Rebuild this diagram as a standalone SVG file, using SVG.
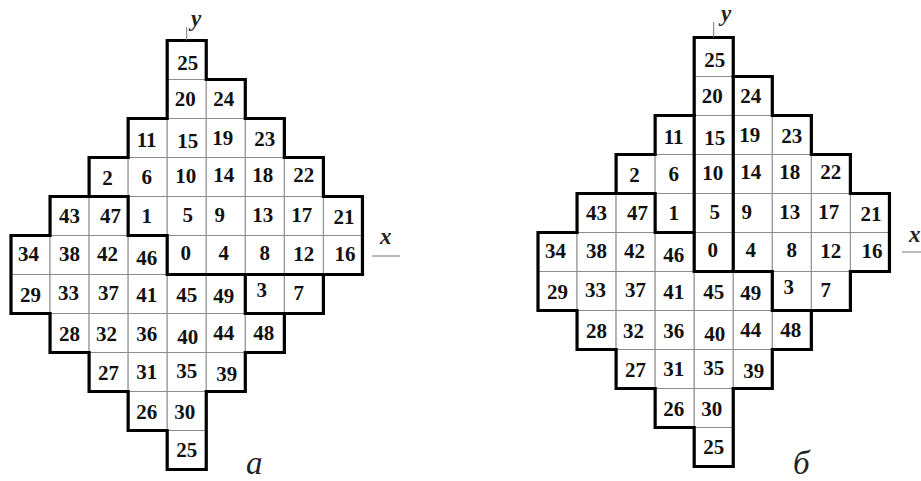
<svg xmlns="http://www.w3.org/2000/svg" width="921" height="481" viewBox="0 0 921 481">
<style>
.cell{fill:#fff;stroke:#8c8c8c;stroke-width:1}
.num{font-family:"Liberation Serif","Times New Roman",serif;font-weight:bold;font-size:21px;text-anchor:middle;fill:#111}
.thick{fill:none;stroke:#000;stroke-width:3.2;stroke-linecap:square;stroke-linejoin:miter}
.axis{stroke:#777;stroke-width:1;fill:none}
.axlbl{font-family:"Liberation Serif","Times New Roman",serif;font-style:italic;font-weight:bold;font-size:23px;fill:#222}
.cap{font-family:"Liberation Serif","Times New Roman",serif;font-style:italic;font-size:33px;fill:#222}
</style>
<rect x="0" y="0" width="921" height="481" fill="#fff"/>
<g id="diagram-a">
<g id="a-r0c4"><rect class="cell" x="167.2" y="40.5" width="39.05" height="39"/><text class="num" x="187.7" y="70">25</text></g>
<g id="a-r1c4"><rect class="cell" x="167.2" y="79.5" width="39.05" height="39"/><text class="num" x="185.2" y="106">20</text></g>
<g id="a-r1c5"><rect class="cell" x="206.25" y="79.5" width="39.05" height="39"/><text class="num" x="223.75" y="106">24</text></g>
<g id="a-r2c3"><rect class="cell" x="128.15" y="118.5" width="39.05" height="39"/><text class="num" x="146.65" y="147">11</text></g>
<g id="a-r2c4"><rect class="cell" x="167.2" y="118.5" width="39.05" height="39"/><text class="num" x="187.7" y="148">15</text></g>
<g id="a-r2c5"><rect class="cell" x="206.25" y="118.5" width="39.05" height="39"/><text class="num" x="222.75" y="144.5">19</text></g>
<g id="a-r2c6"><rect class="cell" x="245.3" y="118.5" width="39.05" height="39"/><text class="num" x="264.8" y="146">23</text></g>
<g id="a-r3c2"><rect class="cell" x="89.1" y="157.5" width="39.05" height="39"/><text class="num" x="107.6" y="184.5">2</text></g>
<g id="a-r3c3"><rect class="cell" x="128.15" y="157.5" width="39.05" height="39"/><text class="num" x="146.65" y="183.5">6</text></g>
<g id="a-r3c4"><rect class="cell" x="167.2" y="157.5" width="39.05" height="39"/><text class="num" x="185.7" y="183">10</text></g>
<g id="a-r3c5"><rect class="cell" x="206.25" y="157.5" width="39.05" height="39"/><text class="num" x="223.75" y="182">14</text></g>
<g id="a-r3c6"><rect class="cell" x="245.3" y="157.5" width="39.05" height="39"/><text class="num" x="262.8" y="182">18</text></g>
<g id="a-r3c7"><rect class="cell" x="284.35" y="157.5" width="39.05" height="39"/><text class="num" x="303.85" y="182">22</text></g>
<g id="a-r4c1"><rect class="cell" x="50.05" y="196.5" width="39.05" height="39"/><text class="num" x="69.55" y="223">43</text></g>
<g id="a-r4c2"><rect class="cell" x="89.1" y="196.5" width="39.05" height="39"/><text class="num" x="110.6" y="223">47</text></g>
<g id="a-r4c3"><rect class="cell" x="128.15" y="196.5" width="39.05" height="39"/><text class="num" x="146.65" y="223">1</text></g>
<g id="a-r4c4"><rect class="cell" x="167.2" y="196.5" width="39.05" height="39"/><text class="num" x="187.7" y="222">5</text></g>
<g id="a-r4c5"><rect class="cell" x="206.25" y="196.5" width="39.05" height="39"/><text class="num" x="219.75" y="222">9</text></g>
<g id="a-r4c6"><rect class="cell" x="245.3" y="196.5" width="39.05" height="39"/><text class="num" x="262.8" y="222">13</text></g>
<g id="a-r4c7"><rect class="cell" x="284.35" y="196.5" width="39.05" height="39"/><text class="num" x="301.85" y="221.5">17</text></g>
<g id="a-r4c8"><rect class="cell" x="323.4" y="196.5" width="39.05" height="39"/><text class="num" x="343.9" y="223.5">21</text></g>
<g id="a-r5c0"><rect class="cell" x="11" y="235.5" width="39.05" height="39"/><text class="num" x="28.5" y="261">34</text></g>
<g id="a-r5c1"><rect class="cell" x="50.05" y="235.5" width="39.05" height="39"/><text class="num" x="69.55" y="261">38</text></g>
<g id="a-r5c2"><rect class="cell" x="89.1" y="235.5" width="39.05" height="39"/><text class="num" x="107.6" y="261">42</text></g>
<g id="a-r5c3"><rect class="cell" x="128.15" y="235.5" width="39.05" height="39"/><text class="num" x="146.65" y="265">46</text></g>
<g id="a-r5c4"><rect class="cell" x="167.2" y="235.5" width="39.05" height="39"/><text class="num" x="185.7" y="260">0</text></g>
<g id="a-r5c5"><rect class="cell" x="206.25" y="235.5" width="39.05" height="39"/><text class="num" x="223.75" y="260">4</text></g>
<g id="a-r5c6"><rect class="cell" x="245.3" y="235.5" width="39.05" height="39"/><text class="num" x="264.8" y="260">8</text></g>
<g id="a-r5c7"><rect class="cell" x="284.35" y="235.5" width="39.05" height="39"/><text class="num" x="303.85" y="261">12</text></g>
<g id="a-r5c8"><rect class="cell" x="323.4" y="235.5" width="39.05" height="39"/><text class="num" x="344.9" y="260.5">16</text></g>
<g id="a-r6c0"><rect class="cell" x="11" y="274.5" width="39.05" height="39"/><text class="num" x="30.5" y="302">29</text></g>
<g id="a-r6c1"><rect class="cell" x="50.05" y="274.5" width="39.05" height="39"/><text class="num" x="68.55" y="299.5">33</text></g>
<g id="a-r6c2"><rect class="cell" x="89.1" y="274.5" width="39.05" height="39"/><text class="num" x="108.6" y="300">37</text></g>
<g id="a-r6c3"><rect class="cell" x="128.15" y="274.5" width="39.05" height="39"/><text class="num" x="146.65" y="302">41</text></g>
<g id="a-r6c4"><rect class="cell" x="167.2" y="274.5" width="39.05" height="39"/><text class="num" x="186.7" y="302">45</text></g>
<g id="a-r6c5"><rect class="cell" x="206.25" y="274.5" width="39.05" height="39"/><text class="num" x="223.75" y="303">49</text></g>
<g id="a-r6c6"><rect class="cell" x="245.3" y="274.5" width="39.05" height="39"/><text class="num" x="261.8" y="297">3</text></g>
<g id="a-r6c7"><rect class="cell" x="284.35" y="274.5" width="39.05" height="39"/><text class="num" x="298.85" y="300">7</text></g>
<g id="a-r7c1"><rect class="cell" x="50.05" y="313.5" width="39.05" height="39"/><text class="num" x="69.55" y="341">28</text></g>
<g id="a-r7c2"><rect class="cell" x="89.1" y="313.5" width="39.05" height="39"/><text class="num" x="106.6" y="341">32</text></g>
<g id="a-r7c3"><rect class="cell" x="128.15" y="313.5" width="39.05" height="39"/><text class="num" x="146.65" y="341">36</text></g>
<g id="a-r7c4"><rect class="cell" x="167.2" y="313.5" width="39.05" height="39"/><text class="num" x="187.7" y="343.5">40</text></g>
<g id="a-r7c5"><rect class="cell" x="206.25" y="313.5" width="39.05" height="39"/><text class="num" x="223.75" y="340">44</text></g>
<g id="a-r7c6"><rect class="cell" x="245.3" y="313.5" width="39.05" height="39"/><text class="num" x="263.8" y="339.5">48</text></g>
<g id="a-r8c2"><rect class="cell" x="89.1" y="352.5" width="39.05" height="39"/><text class="num" x="108.6" y="380">27</text></g>
<g id="a-r8c3"><rect class="cell" x="128.15" y="352.5" width="39.05" height="39"/><text class="num" x="146.65" y="378.5">31</text></g>
<g id="a-r8c4"><rect class="cell" x="167.2" y="352.5" width="39.05" height="39"/><text class="num" x="186.7" y="378">35</text></g>
<g id="a-r8c5"><rect class="cell" x="206.25" y="352.5" width="39.05" height="39"/><text class="num" x="226.75" y="381">39</text></g>
<g id="a-r9c3"><rect class="cell" x="128.15" y="391.5" width="39.05" height="39"/><text class="num" x="146.65" y="418.5">26</text></g>
<g id="a-r9c4"><rect class="cell" x="167.2" y="391.5" width="39.05" height="39"/><text class="num" x="184.7" y="418.5">30</text></g>
<g id="a-r10c4"><rect class="cell" x="167.2" y="430.5" width="39.05" height="39"/><text class="num" x="186.7" y="457">25</text></g>
</g>
<g id="diagram-b">
<g id="b-r0c4"><rect class="cell" x="694.2" y="37.5" width="39.05" height="39"/><text class="num" x="714.7" y="67">25</text></g>
<g id="b-r1c4"><rect class="cell" x="694.2" y="76.5" width="39.05" height="39"/><text class="num" x="712.2" y="103">20</text></g>
<g id="b-r1c5"><rect class="cell" x="733.25" y="76.5" width="39.05" height="39"/><text class="num" x="750.75" y="103">24</text></g>
<g id="b-r2c3"><rect class="cell" x="655.15" y="115.5" width="39.05" height="39"/><text class="num" x="673.65" y="144">11</text></g>
<g id="b-r2c4"><rect class="cell" x="694.2" y="115.5" width="39.05" height="39"/><text class="num" x="714.7" y="145">15</text></g>
<g id="b-r2c5"><rect class="cell" x="733.25" y="115.5" width="39.05" height="39"/><text class="num" x="749.75" y="141.5">19</text></g>
<g id="b-r2c6"><rect class="cell" x="772.3" y="115.5" width="39.05" height="39"/><text class="num" x="791.8" y="143">23</text></g>
<g id="b-r3c2"><rect class="cell" x="616.1" y="154.5" width="39.05" height="39"/><text class="num" x="634.6" y="181.5">2</text></g>
<g id="b-r3c3"><rect class="cell" x="655.15" y="154.5" width="39.05" height="39"/><text class="num" x="673.65" y="180.5">6</text></g>
<g id="b-r3c4"><rect class="cell" x="694.2" y="154.5" width="39.05" height="39"/><text class="num" x="712.7" y="180">10</text></g>
<g id="b-r3c5"><rect class="cell" x="733.25" y="154.5" width="39.05" height="39"/><text class="num" x="750.75" y="179">14</text></g>
<g id="b-r3c6"><rect class="cell" x="772.3" y="154.5" width="39.05" height="39"/><text class="num" x="789.8" y="179">18</text></g>
<g id="b-r3c7"><rect class="cell" x="811.35" y="154.5" width="39.05" height="39"/><text class="num" x="830.85" y="179">22</text></g>
<g id="b-r4c1"><rect class="cell" x="577.05" y="193.5" width="39.05" height="39"/><text class="num" x="596.55" y="220">43</text></g>
<g id="b-r4c2"><rect class="cell" x="616.1" y="193.5" width="39.05" height="39"/><text class="num" x="637.6" y="220">47</text></g>
<g id="b-r4c3"><rect class="cell" x="655.15" y="193.5" width="39.05" height="39"/><text class="num" x="673.65" y="220">1</text></g>
<g id="b-r4c4"><rect class="cell" x="694.2" y="193.5" width="39.05" height="39"/><text class="num" x="714.7" y="219">5</text></g>
<g id="b-r4c5"><rect class="cell" x="733.25" y="193.5" width="39.05" height="39"/><text class="num" x="746.75" y="219">9</text></g>
<g id="b-r4c6"><rect class="cell" x="772.3" y="193.5" width="39.05" height="39"/><text class="num" x="789.8" y="219">13</text></g>
<g id="b-r4c7"><rect class="cell" x="811.35" y="193.5" width="39.05" height="39"/><text class="num" x="828.85" y="218.5">17</text></g>
<g id="b-r4c8"><rect class="cell" x="850.4" y="193.5" width="39.05" height="39"/><text class="num" x="870.9" y="220.5">21</text></g>
<g id="b-r5c0"><rect class="cell" x="538" y="232.5" width="39.05" height="39"/><text class="num" x="555.5" y="258">34</text></g>
<g id="b-r5c1"><rect class="cell" x="577.05" y="232.5" width="39.05" height="39"/><text class="num" x="596.55" y="258">38</text></g>
<g id="b-r5c2"><rect class="cell" x="616.1" y="232.5" width="39.05" height="39"/><text class="num" x="634.6" y="258">42</text></g>
<g id="b-r5c3"><rect class="cell" x="655.15" y="232.5" width="39.05" height="39"/><text class="num" x="673.65" y="262">46</text></g>
<g id="b-r5c4"><rect class="cell" x="694.2" y="232.5" width="39.05" height="39"/><text class="num" x="712.7" y="257">0</text></g>
<g id="b-r5c5"><rect class="cell" x="733.25" y="232.5" width="39.05" height="39"/><text class="num" x="750.75" y="257">4</text></g>
<g id="b-r5c6"><rect class="cell" x="772.3" y="232.5" width="39.05" height="39"/><text class="num" x="791.8" y="257">8</text></g>
<g id="b-r5c7"><rect class="cell" x="811.35" y="232.5" width="39.05" height="39"/><text class="num" x="830.85" y="258">12</text></g>
<g id="b-r5c8"><rect class="cell" x="850.4" y="232.5" width="39.05" height="39"/><text class="num" x="871.9" y="257.5">16</text></g>
<g id="b-r6c0"><rect class="cell" x="538" y="271.5" width="39.05" height="39"/><text class="num" x="557.5" y="299">29</text></g>
<g id="b-r6c1"><rect class="cell" x="577.05" y="271.5" width="39.05" height="39"/><text class="num" x="595.55" y="296.5">33</text></g>
<g id="b-r6c2"><rect class="cell" x="616.1" y="271.5" width="39.05" height="39"/><text class="num" x="635.6" y="297">37</text></g>
<g id="b-r6c3"><rect class="cell" x="655.15" y="271.5" width="39.05" height="39"/><text class="num" x="673.65" y="299">41</text></g>
<g id="b-r6c4"><rect class="cell" x="694.2" y="271.5" width="39.05" height="39"/><text class="num" x="713.7" y="299">45</text></g>
<g id="b-r6c5"><rect class="cell" x="733.25" y="271.5" width="39.05" height="39"/><text class="num" x="750.75" y="300">49</text></g>
<g id="b-r6c6"><rect class="cell" x="772.3" y="271.5" width="39.05" height="39"/><text class="num" x="788.8" y="294">3</text></g>
<g id="b-r6c7"><rect class="cell" x="811.35" y="271.5" width="39.05" height="39"/><text class="num" x="825.85" y="297">7</text></g>
<g id="b-r7c1"><rect class="cell" x="577.05" y="310.5" width="39.05" height="39"/><text class="num" x="596.55" y="338">28</text></g>
<g id="b-r7c2"><rect class="cell" x="616.1" y="310.5" width="39.05" height="39"/><text class="num" x="633.6" y="338">32</text></g>
<g id="b-r7c3"><rect class="cell" x="655.15" y="310.5" width="39.05" height="39"/><text class="num" x="673.65" y="338">36</text></g>
<g id="b-r7c4"><rect class="cell" x="694.2" y="310.5" width="39.05" height="39"/><text class="num" x="714.7" y="340.5">40</text></g>
<g id="b-r7c5"><rect class="cell" x="733.25" y="310.5" width="39.05" height="39"/><text class="num" x="750.75" y="337">44</text></g>
<g id="b-r7c6"><rect class="cell" x="772.3" y="310.5" width="39.05" height="39"/><text class="num" x="790.8" y="336.5">48</text></g>
<g id="b-r8c2"><rect class="cell" x="616.1" y="349.5" width="39.05" height="39"/><text class="num" x="635.6" y="377">27</text></g>
<g id="b-r8c3"><rect class="cell" x="655.15" y="349.5" width="39.05" height="39"/><text class="num" x="673.65" y="375.5">31</text></g>
<g id="b-r8c4"><rect class="cell" x="694.2" y="349.5" width="39.05" height="39"/><text class="num" x="713.7" y="375">35</text></g>
<g id="b-r8c5"><rect class="cell" x="733.25" y="349.5" width="39.05" height="39"/><text class="num" x="753.75" y="378">39</text></g>
<g id="b-r9c3"><rect class="cell" x="655.15" y="388.5" width="39.05" height="39"/><text class="num" x="673.65" y="415.5">26</text></g>
<g id="b-r9c4"><rect class="cell" x="694.2" y="388.5" width="39.05" height="39"/><text class="num" x="711.7" y="415.5">30</text></g>
<g id="b-r10c4"><rect class="cell" x="694.2" y="427.5" width="39.05" height="39"/><text class="num" x="713.7" y="454">25</text></g>
</g>
<g id="connectors">
<path id="a-outline" class="thick" d="M167.2,40.5 H206.25 V79.5 H245.3 V118.5 H284.35 V157.5 H323.4 V196.5 H362.45 V274.5 H323.4 V313.5 H284.35 V352.5 H245.3 V391.5 H206.25 V469.5 H167.2 V430.5 H128.15 V391.5 H89.1 V352.5 H50.05 V313.5 H11 V235.5 H50.05 V196.5 H89.1 V157.5 H128.15 V118.5 H167.2 Z"/>
<path id="a-split" class="thick" d="M89.1,196.5 H128.15 V235.5 H167.2 V274.5 H362.45 M245.3,274.5 V313.5 H323.4"/>
<path id="b-outline" class="thick" d="M694.2,37.5 H733.25 V76.5 H772.3 V115.5 H811.35 V154.5 H850.4 V193.5 H889.45 V271.5 H850.4 V310.5 H811.35 V349.5 H772.3 V388.5 H733.25 V466.5 H694.2 V427.5 H655.15 V388.5 H616.1 V349.5 H577.05 V310.5 H538 V232.5 H577.05 V193.5 H616.1 V154.5 H655.15 V115.5 H694.2 Z"/>
<path id="b-split" class="thick" d="M616.1,193.5 H655.15 V232.5 H694.2 M694.2,115.5 V271.5 H772.3 V310.5 H850.4 M733.25,76.5 V271.5"/>
<line class="axis" x1="186.7" y1="27" x2="186.7" y2="40.5"/>
<line class="axis" x1="372" y1="256" x2="400" y2="256"/>
<line class="axis" x1="713.7" y1="22" x2="713.7" y2="37.5"/>
<line class="axis" x1="902" y1="252" x2="921" y2="252"/>
</g>
<g id="labels">
<text class="axlbl" x="191" y="26">y</text>
<text class="axlbl" x="380" y="244">x</text>
<text class="axlbl" x="721" y="21">y</text>
<text class="axlbl" x="909" y="242">x</text>
<text class="cap" x="246" y="474">а</text>
<text class="cap" x="793" y="474">б</text>
</g>
</svg>
